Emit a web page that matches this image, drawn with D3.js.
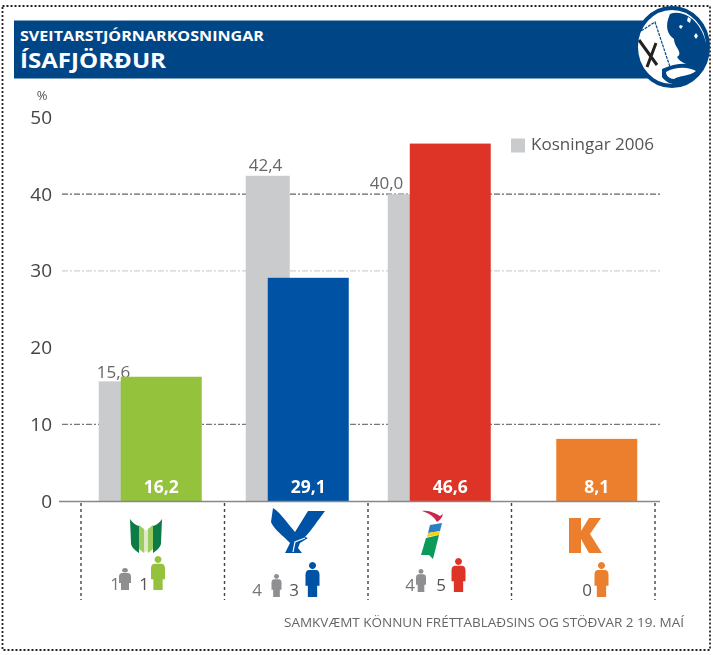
<!DOCTYPE html>
<html><head><meta charset="utf-8">
<script src="https://cdnjs.cloudflare.com/ajax/libs/d3/7.8.5/d3.min.js"></script>
<style>html,body{margin:0;padding:0;background:#fff}svg{display:block;filter:blur(.45px)}text{font-family:"Open Sans",sans-serif}</style>
</head><body><svg id="c" width="713" height="655"></svg>
<script>
const categories=["V","D","Í","K"];
const values2006=[15.6,42.4,40.0,null];
const valuesPoll=[16.2,29.1,46.6,8.1];
const seats2006=["1","4","4",null];
const seatsPoll=["1","3","5","0"];
const yTicks=[0,10,20,30,40,50];
const gridTicks=[10,30,40];
const colors=["#95c23d","#0053a4","#de3428","#ec7f2d"];
const labelsPoll=["16,2","29,1","46,6","8,1"];
const labels2006=["15,6","42,4","40,0",""];

const svg=d3.select("#c");
const y=d3.scaleLinear().domain([0,50]).range([501,117.5]);
const x=d3.scaleBand().domain(categories).range([81,655]);
const barW=81,greyW=44;
const shift={V:8.5,D:12,"Í":10.5,K:13.5};
const mainX=c=>x(c)+x.bandwidth()/2+shift[c]-barW/2;

// frame
svg.append("rect").attr("x",2.5).attr("y",6).attr("width",707.5).attr("height",644)
 .attr("fill","none").attr("stroke","#222").attr("stroke-width",1.8).attr("stroke-dasharray","2 2");

// header
svg.append("rect").attr("x",14).attr("y",20.5).attr("width",640).attr("height",58).attr("fill","#004687");
svg.append("text").attr("x",20).attr("y",41).attr("fill","#fff").attr("font-size",14.5).attr("font-weight",700).attr("textLength",244).attr("lengthAdjust","spacingAndGlyphs").text("SVEITARSTJÓRNARKOSNINGAR");
svg.append("text").attr("x",20).attr("y",68).attr("fill","#fff").attr("font-size",22).attr("font-weight",700).attr("textLength",146).attr("lengthAdjust","spacingAndGlyphs").text("ÍSAFJÖRÐUR");
// emblem
const em=svg.append("g").attr("transform","translate(672,47)");
em.append("ellipse").attr("rx",36).attr("ry",39).attr("fill","#fff").attr("stroke","#004687").attr("stroke-width",4);
em.append("path").attr("fill","#004687").attr("d","M-2,-33C10,-38 30,-28 35,0C36,14 30,22 22,26C16,14 10,18 5,10C12,6 2,0 2,-8C-4,-12 -8,-20 -2,-33Z");
em.append("path").attr("fill","#fff").attr("d","M16,-30l3,2l-1,4l-3,-2ZM24,-14l2,3l-2,3l-2,-3ZM8,-22l3,1l-2,3l-2,-2Z");
em.append("path").attr("fill","#004687").attr("d","M-10,22C6,14 24,16 30,22C20,40 -2,42 -10,30Z");
em.append("path").attr("fill","#fff").attr("d","M-6,25C4,19 18,20 24,24C16,30 8,28 2,32C-2,32 -6,29 -6,25Z");
em.append("path").attr("fill","none").attr("stroke","#004687").attr("stroke-width",1.2).attr("stroke-dasharray","3 1").attr("d","M-34,-14L-17,-25L-2,20");
em.append("path").attr("fill","none").attr("stroke","#222").attr("stroke-width",3).attr("d","M-33,-7L-15,18M-16,-4L-25,20");

// grid
const gridStyle={10:["#777",1.3],30:["#cfcfcf",1.2],40:["#666",1.3]};
svg.append("g").selectAll("line").data(gridTicks).join("line")
 .attr("x1",62).attr("x2",661).attr("y1",d=>y(d)).attr("y2",d=>y(d))
 .attr("stroke",d=>gridStyle[d][0]).attr("stroke-width",d=>gridStyle[d][1]).attr("stroke-dasharray","6 2 2 2");

// y axis
const axis=d3.axisLeft(y).tickValues(yTicks).tickSize(0).tickPadding(0).tickFormat(d3.format("d"));
const ag=svg.append("g").attr("transform","translate(52,0)").call(axis);
ag.select(".domain").remove();
ag.selectAll("text").attr("font-size",19).attr("fill","#444").attr("font-family","Open Sans, sans-serif");
svg.append("text").attr("x",42).attr("y",100).attr("text-anchor","middle").attr("font-size",13).attr("fill","#555").text("%");

// grey bars
const gIdx=categories.map((c,i)=>({c,i})).filter(d=>values2006[d.i]!=null);
svg.append("g").selectAll("rect").data(gIdx).join("rect")
 .attr("x",d=>mainX(d.c)-22).attr("width",greyW)
 .attr("y",d=>y(values2006[d.i])).attr("height",d=>y(0)-y(values2006[d.i])).attr("fill","#c9cbcd");
const labelDx=[-2,3,-18];
svg.append("g").selectAll("text").data(gIdx).join("text")
 .attr("x",d=>mainX(d.c)-22+labelDx[d.i])
 .attr("y",d=>y(values2006[d.i])-(d.i==0?3:5)).attr("font-size",17).attr("fill","#666").text(d=>labels2006[d.i]);

// main bars
const bars=categories.map((c,i)=>({c,i}));
svg.append("g").selectAll("rect").data(bars).join("rect")
 .attr("x",d=>mainX(d.c)).attr("width",barW)
 .attr("y",d=>y(valuesPoll[d.i])).attr("height",d=>y(0)-y(valuesPoll[d.i])).attr("fill",d=>colors[d.i]);
svg.append("g").selectAll("text").data(bars).join("text")
 .attr("x",d=>mainX(d.c)+barW/2).attr("y",y(0)-8).attr("text-anchor","middle")
 .attr("font-size",17.5).attr("font-weight",700).attr("fill","#fff").text(d=>labelsPoll[d.i]);

// baseline + separators
svg.append("line").attr("x1",59).attr("x2",660).attr("y1",y(0)+.5).attr("y2",y(0)+.5).attr("stroke","#888").attr("stroke-width",1.6);
const seps=categories.map(c=>x(c)).concat([x.range()[1]]);
svg.append("g").selectAll("line").data(seps).join("line")
 .attr("x1",d=>d).attr("x2",d=>d).attr("y1",503).attr("y2",600)
 .attr("stroke","#444").attr("stroke-width",1.4).attr("stroke-dasharray","3 3");

// legend
svg.append("rect").attr("x",511).attr("y",138.5).attr("width",14).attr("height",14).attr("fill","#c9cbcd");
svg.append("text").attr("x",531).attr("y",150).attr("font-size",17).attr("fill","#555").attr("textLength",123).attr("lengthAdjust","spacingAndGlyphs").text("Kosningar 2006");

// person icons
function person(g,cx,base,h,w,col){
 g.append("path").attr("transform",`translate(${cx},${base}) scale(${w/18},${h/44})`).attr("fill",col)
  .attr("d","M0,-44a4.5,4.5 0 1,1 -.01,0ZM-5,-34H5Q9,-33 9,-28V-14H6V0H-6V-14H-9V-28Q-9,-33 -5,-34Z");
}
const icons=[
 {c:"V",gx:125,gb:590,gh:22,gw:12,px:158,pb:590,ph:34,pw:14,n1:[115,590],n2:[144,590]},
 {c:"D",gx:276.5,gb:597,gh:23,gw:10,px:312.5,pb:597,ph:35,pw:14,n1:[257,596],n2:[294,596]},
 {c:"Í",gx:421,gb:592,gh:23,gw:10,px:458.5,pb:592,ph:34,pw:14,n1:[410,591],n2:[441,591]},
 {c:"K",gx:null,px:601.5,pb:597,ph:35,pw:14,n2:[587,596]}
];
const ig=svg.append("g");
icons.forEach(o=>{
 const i=categories.indexOf(o.c);
 if(o.gx!=null&&seats2006[i]!=null){
  person(ig,o.gx,o.gb,o.gh,o.gw,"#8f8f92");
  ig.append("text").attr("x",o.n1[0]).attr("y",o.n1[1]).attr("text-anchor","middle").attr("font-size",17).attr("fill","#777").text(seats2006[i]);
 }
 person(ig,o.px,o.pb,o.ph,o.pw,colors[i]);
 ig.append("text").attr("x",o.n2[0]).attr("y",o.n2[1]).attr("text-anchor","middle").attr("font-size",17).attr("fill","#555").text(seatsPoll[i]);
});

// party logos
const lg=svg.append("g");
// book
lg.append("path").attr("fill","#0e7a45").attr("d","M130,519C132,522 135,525 139,526V553C134,550 131,546 131,543Z");
lg.append("path").attr("fill","#0e7a45").attr("d","M162,519C160,522 157,525 153,526V553C158,550 161,546 161,543Z");
lg.append("path").attr("fill","#9ccb5e").attr("d","M139,525L144,529V553L139,549Z");
lg.append("path").attr("fill","#9ccb5e").attr("d","M153,525L148,529V553L153,549Z");
lg.append("path").attr("fill","#dfe9c8").attr("d","M144,529L146,531L148,529V553L146,551L144,553Z");
// eagle
lg.append("path").attr("fill","#0053a4").attr("d","M273,508C280,512 288,524 295,532L308,511L325,511C318,520 312,530 305,537L308,538L300,543L298,548L302,553L285,553L290,543C286,538 274,530 271,522Z");
lg.append("path").attr("fill","none").attr("stroke","#fff").attr("stroke-width",1.2).attr("d","M293,552L295,542L305,538");
// flag
lg.append("path").attr("fill","#c8284f").attr("d","M422,511C430,510 436,514 440,516L443,514C442,518 440,520 437,522C434,516 428,513 422,511Z");
lg.append("path").attr("fill","#2b7fc4").attr("d","M430,525L442,523L440,531L428,533Z");
lg.append("path").attr("fill","#f3d11c").attr("d","M428,533L440,531L439,535L427,537Z");
lg.append("path").attr("fill","#0a9a5a").attr("d","M426,538L439,535L433,559L429,555L421,555Z");
// K
lg.append("path").attr("fill","#ec7f2d").attr("d","M569,518H581V531L589,518H601L590,534L602,553H589L581,539V553H569Z");

// source
svg.append("text").attr("x",684).attr("y",627).attr("text-anchor","end").attr("font-size",13).attr("fill","#666").attr("textLength",400).attr("lengthAdjust","spacingAndGlyphs").text("SAMKVÆMT KÖNNUN FRÉTTABLAÐSINS OG STÖÐVAR 2 19. MAÍ");
</script></body></html>
